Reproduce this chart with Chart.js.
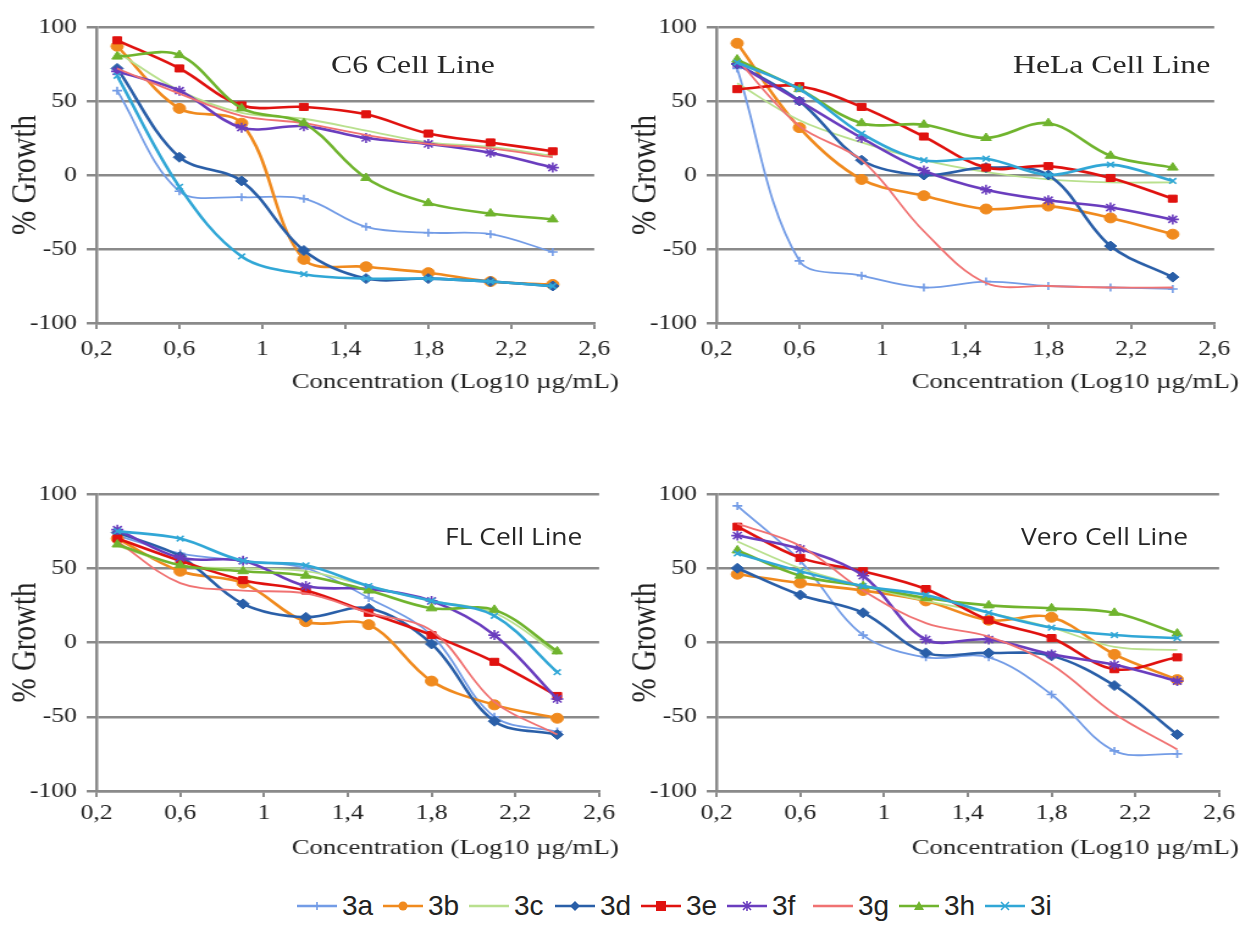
<!DOCTYPE html>
<html>
<head>
<meta charset="utf-8">
<script src="https://cdn.jsdelivr.net/npm/chart.js@4"></script>
<style>
  body { margin: 0; background: #fff; width: 1245px; height: 928px; overflow: hidden; position: relative; }
  /* the reference figure is stretched sideways, so each chart is drawn narrow and widened */
  canvas { position: absolute; transform-origin: 0 0; transform: scaleX(1.2205); }
  .ttl { position: absolute; color: #262626; white-space: nowrap; line-height: 1; transform-origin: 0 0; }
  .serif { font-family: "Liberation Serif", "DejaVu Serif", serif; font-size: 26px; transform: scaleX(1.22); }
  .sans { font-family: "Open Sans", "Noto Sans", sans-serif; font-size: 24px; transform: scaleX(1.1); }
  #legend { position: absolute; left: 297px; top: 892px; display: flex; align-items: center;
            font-family: "Liberation Sans", Arial, sans-serif; font-size: 28px; color: #222; line-height: 1; }
  #legend .item { display: flex; align-items: center; width: 86px; }
  #legend svg { margin-right: 5px; }
</style>
</head>
<body>
<canvas id="c6" width="508" height="400" style="left:0;top:0"></canvas>
<canvas id="hela" width="508" height="400" style="left:620px;top:0"></canvas>
<canvas id="fl" width="508" height="420" style="left:0;top:460px"></canvas>
<canvas id="vero" width="508" height="420" style="left:620px;top:460px"></canvas>

<div class="ttl serif" style="left:331px;top:52px">C6 Cell Line</div>
<div class="ttl serif" style="left:1013px;top:52px">HeLa Cell Line</div>
<div class="ttl sans" style="left:445px;top:524px">FL Cell Line</div>
<div class="ttl sans" style="left:1021px;top:524px">Vero Cell Line</div>

<div id="legend"></div>

<script>
// x positions (Log10 concentration) and axis ticks
const xValues = [0.3, 0.6, 0.9, 1.2, 1.5, 1.8, 2.1, 2.4];
const xTicks = [0.2, 0.6, 1, 1.4, 1.8, 2.2, 2.6];
const yTicks = [-100, -50, 0, 50, 100];
const xTitle = 'Concentration (Log10 µg/mL)';
const yTitle = '% Growth';

const seriesNames = ['3a', '3b', '3c', '3d', '3e', '3f', '3g', '3h', '3i'];
const colors = ['#739ce6', '#f08a1e', '#b9e08e', '#2a5fa8', '#e0120f', '#6a3dbe', '#f07272', '#70b42e', '#31a7d6'];
const pointStyles = ['cross', 'circle', false, 'rectRot', 'rect', 'star', false, 'triangle', 'crossRot'];

// % growth, one row per series (3a..3i)
const c6Values = [
  [57, -11, -15, -16, -35, -39, -40, -52],
  [87, 45, 35, -57, -62, -66, -72, -74],
  [83, 57, 42, 38, 30, 22, 19, 13],
  [72, 12, -4, -51, -70, -70, -72, -75],
  [91, 72, 47, 46, 41, 28, 22, 16],
  [70, 57, 32, 33, 25, 21, 15, 5],
  [72, 55, 40, 35, 27, 21, 18, 12],
  [80, 81, 45, 35, -2, -19, -26, -30],
  [67, -8, -55, -67, -70, -70, -72, -75]
];
const helaValues = [
  [72, -58, -68, -76, -72, -75, -76, -77],
  [89, 32, -3, -14, -23, -21, -29, -40],
  [62, 37, 22, 10, 2, -3, -5, -5],
  [75, 50, 10, 0, 5, 0, -48, -69],
  [58, 60, 46, 26, 5, 6, -2, -16],
  [75, 50, 25, 3, -10, -17, -22, -30],
  [78, 33, 10, -38, -73, -75, -76, -76],
  [78, 58, 35, 34, 25, 35, 13, 5],
  [76, 58, 28, 10, 11, 0, 7, -4]
];
const flValues = [
  [72, 60, 55, 50, 30, 5, -50, -60],
  [70, 48, 40, 14, 12, -26, -42, -51],
  [65, 52, 50, 48, 38, 28, 20, -8],
  [74, 58, 26, 17, 23, -1, -53, -62],
  [70, 55, 42, 35, 20, 5, -13, -36],
  [76, 57, 55, 38, 36, 28, 5, -38],
  [68, 40, 35, 33, 20, 8, -40, -62],
  [66, 52, 48, 45, 35, 23, 22, -6],
  [75, 70, 55, 52, 38, 28, 18, -20]
];
const veroValues = [
  [92, 55, 5, -10, -10, -35, -73, -75],
  [46, 40, 35, 28, 15, 17, -8, -25],
  [68, 50, 38, 28, 20, 10, -3, -5],
  [50, 32, 20, -7, -7, -9, -29, -62],
  [78, 57, 48, 36, 15, 3, -18, -10],
  [72, 63, 45, 2, 2, -8, -15, -26],
  [80, 65, 35, 13, 4, -15, -48, -72],
  [62, 45, 38, 30, 25, 23, 20, 6],
  [60, 48, 38, 32, 20, 10, 5, 3]
];

const gridColor = '#8a8a8a';
const textColor = '#222';
const serif = '"Liberation Serif", "DejaVu Serif", serif';

// x axis title sits right-aligned against the canvas edge, past the last tick
const xTitlePlugin = {
  id: 'xTitle',
  afterDraw(chart, args, opts) {
    const ctx = chart.ctx;
    ctx.save();
    ctx.font = '22px ' + serif;
    ctx.fillStyle = textColor;
    ctx.textAlign = 'right';
    ctx.textBaseline = 'middle';
    ctx.fillText(xTitle, chart.width - 1, opts.y);
    ctx.restore();
  }
};

function datasetFor(vals, i) {
  const marker = pointStyles[i];
  const thin = (i === 0 || i === 2 || i === 6);
  const stroked = marker === 'cross' || marker === 'crossRot' || marker === 'star';
  return {
    label: seriesNames[i],
    data: xValues.map((x, j) => ({ x, y: vals[i][j] })),
    borderColor: colors[i],
    backgroundColor: colors[i],
    borderWidth: thin ? 1.8 : 2.6,
    pointStyle: marker || 'circle',
    pointRadius: marker ? (stroked && marker !== 'star' ? 4 : 5) : 0,
    pointBorderWidth: stroked ? 1.6 : 1,
    tension: 0.35,
    order: seriesNames.length - i
  };
}

// plotTop / plotBottom in canvas pixels
function makeChart(id, vals, height, plotTop, plotBottom, labelPad, titleY) {
  new Chart(document.getElementById(id), {
    type: 'line',
    data: { datasets: vals.map((_, i) => datasetFor(vals, i)) },
    plugins: [xTitlePlugin],
    options: {
      responsive: false,
      animation: false,
      layout: { padding: { left: 4, top: plotTop, right: 15, bottom: 0 } },
      plugins: { legend: { display: false }, tooltip: { enabled: false }, xTitle: { y: titleY } },
      scales: {
        x: {
          type: 'linear', min: 0.2, max: 2.6,
          afterBuildTicks: s => { s.ticks = xTicks.map(v => ({ value: v })); },
          afterFit: s => { s.height = height - plotBottom; },
          ticks: {
            color: textColor, padding: labelPad,
            font: { family: serif, size: 21 },
            callback: v => String(Math.round(v * 10) / 10).replace('.', ',')
          },
          grid: { drawOnChartArea: false, color: gridColor, lineWidth: 2, tickLength: 6 },
          border: { color: gridColor, width: 2.5 }
        },
        y: {
          min: -100, max: 100,
          afterBuildTicks: s => { s.ticks = yTicks.map(v => ({ value: v })); },
          afterFit: s => { s.width = 75; },
          ticks: { color: textColor, padding: 8, font: { family: serif, size: 21 } },
          grid: { color: gridColor, lineWidth: 2.5, tickLength: 8 },
          border: { color: gridColor, width: 2.5 },
          title: {
            display: true, text: yTitle, color: textColor,
            font: { family: serif, size: 29 }, padding: { top: 0, bottom: 0 }
          }
        }
      }
    }
  });
}

makeChart('c6', c6Values, 400, 27, 323, 8, 382);
makeChart('hela', helaValues, 400, 27, 323, 8, 382);
makeChart('fl', flValues, 420, 34, 331, 4, 388);
makeChart('vero', veroValues, 420, 34, 331, 4, 388);

// legend: line with marker, then label
function markerSvg(style, color) {
  const c = 20, m = 10;
  switch (style) {
    case 'cross': return `<path d="M${c} ${m-4}V${m+4}M${c-4} ${m}H${c+4}" stroke="${color}" stroke-width="1.6"/>`;
    case 'circle': return `<circle cx="${c}" cy="${m}" r="4.5" fill="${color}"/>`;
    case 'rectRot': return `<polygon points="${c},${m-5} ${c+5},${m} ${c},${m+5} ${c-5},${m}" fill="${color}"/>`;
    case 'rect': return `<rect x="${c-5}" y="${m-5}" width="10" height="10" fill="${color}"/>`;
    case 'star': return `<path d="M${c} ${m-5}V${m+5}M${c-5} ${m}H${c+5}M${c-4} ${m-4}L${c+4} ${m+4}M${c+4} ${m-4}L${c-4} ${m+4}" stroke="${color}" stroke-width="1.6"/>`;
    case 'triangle': return `<polygon points="${c},${m-5} ${c+5},${m+4} ${c-5},${m+4}" fill="${color}"/>`;
    case 'crossRot': return `<path d="M${c-4} ${m-4}L${c+4} ${m+4}M${c+4} ${m-4}L${c-4} ${m+4}" stroke="${color}" stroke-width="1.6"/>`;
    default: return '';
  }
}
const legend = document.getElementById('legend');
seriesNames.forEach((name, i) => {
  const item = document.createElement('div');
  item.className = 'item';
  item.innerHTML = `<svg width="40" height="20"><line x1="0" y1="10" x2="40" y2="10" stroke="${colors[i]}" stroke-width="2.5"/>${markerSvg(pointStyles[i], colors[i])}</svg><span>${name}</span>`;
  legend.appendChild(item);
});
</script>
</body>
</html>
